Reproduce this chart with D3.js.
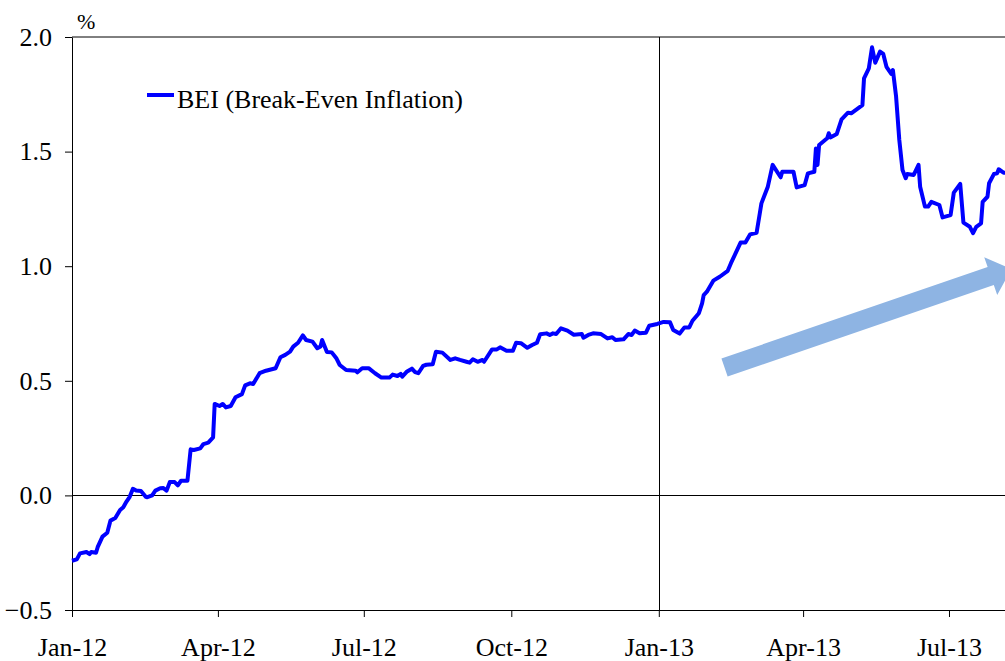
<!DOCTYPE html>
<html>
<head>
<meta charset="utf-8">
<script src="https://cdn.jsdelivr.net/npm/d3@7"></script>
<style>
  body { margin: 0; background: #fff; }
  .axis path, .axis line { stroke: #000; }
  .bei { fill: none; stroke: #0000ff; stroke-width: 4; stroke-linejoin: round; }
</style>
</head>
<body>
<svg id="chart" width="1005" height="661"></svg>
<script>
// days since 1 Jan 2012
var days = [0, 3, 5, 9, 11, 12, 15, 16, 19, 22, 24, 27, 30, 32, 34, 36, 38, 40, 43, 46,
  47, 50, 52, 55, 57, 59, 61, 64, 66, 68, 72, 74, 76, 80, 82, 85, 88, 89, 92, 94,
  96, 99, 102, 106, 108, 111, 113, 117, 121, 127, 130, 133, 136, 138, 141, 144, 146, 150, 153, 155,
  156, 159, 162, 165, 167, 171, 177, 178, 181, 185, 189, 193, 198, 200, 203, 205, 206, 209, 212, 214,
  216, 219, 221, 225, 227, 231, 236, 239, 242, 246, 248, 250, 253, 256, 257, 262, 265, 267, 271, 275,
  277, 280, 284, 287, 290, 292, 296, 298, 300, 302, 305, 309, 313, 318, 319, 322, 325, 330, 334, 337,
  339, 344, 347, 349, 351, 354, 358, 360, 365, 369, 373, 375, 379, 382, 385, 387, 391, 393, 394, 396,
  400, 404, 409, 411, 417, 420, 423, 427, 429, 430, 434, 437, 442, 443, 450, 452, 457, 459, 463, 464,
  465, 466, 471, 472, 473, 477, 480, 484, 486, 493, 494, 497, 499, 501, 504, 506, 508, 511, 512, 514,
  516, 518, 520, 521, 525, 528, 529, 532, 534, 536, 541, 543, 548, 550, 554, 556, 560, 562, 564, 567,
  568, 571, 572, 575, 577, 578, 581, 582, 585];

// BEI, %
var bei = [-0.285, -0.279, -0.253, -0.247, -0.256, -0.247, -0.250, -0.226, -0.180, -0.163, -0.110, -0.099, -0.064, -0.052, -0.027, -0.006, 0.029, 0.021, 0.019, -0.006,
  -0.008, 0.000, 0.021, 0.031, 0.032, 0.021, 0.058, 0.058, 0.044, 0.064, 0.064, 0.201, 0.198, 0.205, 0.224, 0.230, 0.253, 0.399, 0.390, 0.399,
  0.384, 0.390, 0.428, 0.442, 0.480, 0.489, 0.486, 0.533, 0.544, 0.555, 0.603, 0.613, 0.627, 0.649, 0.666, 0.698, 0.678, 0.671, 0.642, 0.650,
  0.678, 0.626, 0.624, 0.597, 0.569, 0.547, 0.544, 0.537, 0.555, 0.555, 0.533, 0.514, 0.514, 0.527, 0.521, 0.530, 0.518, 0.541, 0.553, 0.538,
  0.533, 0.565, 0.570, 0.572, 0.627, 0.623, 0.591, 0.598, 0.591, 0.583, 0.579, 0.594, 0.583, 0.591, 0.583, 0.637, 0.637, 0.646, 0.631, 0.631,
  0.666, 0.664, 0.644, 0.656, 0.666, 0.703, 0.707, 0.700, 0.707, 0.704, 0.729, 0.719, 0.701, 0.704, 0.688, 0.700, 0.707, 0.704, 0.685, 0.690,
  0.678, 0.681, 0.704, 0.700, 0.719, 0.707, 0.710, 0.740, 0.748, 0.757, 0.755, 0.722, 0.706, 0.733, 0.733, 0.762, 0.795, 0.838, 0.874, 0.889,
  0.937, 0.954, 0.980, 1.013, 1.103, 1.103, 1.139, 1.146, 1.231, 1.274, 1.347, 1.442, 1.388, 1.412, 1.412, 1.344, 1.354, 1.405, 1.412, 1.514,
  1.442, 1.529, 1.558, 1.580, 1.562, 1.577, 1.641, 1.670, 1.667, 1.703, 1.820, 1.863, 1.955, 1.888, 1.936, 1.926, 1.870, 1.839, 1.856, 1.740,
  1.551, 1.420, 1.384, 1.402, 1.398, 1.442, 1.347, 1.260, 1.260, 1.281, 1.267, 1.213, 1.223, 1.321, 1.359, 1.190, 1.172, 1.144, 1.172, 1.187,
  1.281, 1.303, 1.362, 1.402, 1.405, 1.423, 1.408, 1.408, 1.400];

var yTicks = [-0.5, 0.0, 0.5, 1.0, 1.5, 2.0];
var xTicks = ["2012-01-01", "2012-04-01", "2012-07-01", "2012-10-01", "2013-01-01", "2013-04-01", "2013-07-01"];
var seriesName = "BEI (Break-Even Inflation)";
var unitLabel = "%";

// trend arrow, [day, value] of tail and tip
var arrowFrom = [407, 0.558];
var arrowTo = [586, 0.988];

var svg = d3.select("#chart"),
    width = +svg.attr("width"),
    height = +svg.attr("height");

var margin = {top: 37, left: 72, bottom: 51};

var start = new Date(2012, 0, 1);
var parseDate = d3.timeParse("%Y-%m-%d");

var x = d3.scaleTime()
    .domain([start, new Date(2014, 0, 1)])
    .range([margin.left, margin.left + 586 * 2]);

var y = d3.scaleLinear()
    .domain([-0.5, 2.0])
    .range([height - margin.bottom, margin.top]);

var data = days.map(function(d, i) {
  return {date: d3.timeDay.offset(start, d), value: bei[i]};
});

// top frame line
svg.append("line")
    .attr("x1", margin.left)
    .attr("x2", width)
    .attr("y1", y(2.0))
    .attr("y2", y(2.0))
    .attr("stroke", "#000");

// zero line
svg.append("line")
    .attr("x1", margin.left)
    .attr("x2", width)
    .attr("y1", Math.round(y(0)) + 0.5)
    .attr("y2", Math.round(y(0)) + 0.5)
    .attr("stroke", "#000");

// Jan-13 separator
var sep = Math.round(x(parseDate("2013-01-01"))) + 0.5;
svg.append("line")
    .attr("x1", sep)
    .attr("x2", sep)
    .attr("y1", y(2.0))
    .attr("y2", y(-0.5))
    .attr("stroke", "#000");

// axes
var gx = svg.append("g")
    .attr("class", "axis")
    .attr("transform", "translate(0," + y(-0.5) + ")")
    .call(d3.axisBottom(x)
      .tickValues(xTicks.map(parseDate))
      .tickFormat(d3.timeFormat("%b-%y"))
      .tickSize(7)
      .tickSizeOuter(0));
gx.select(".domain").attr("d", "M" + margin.left + ",0.5H" + width);
gx.selectAll("text")
    .attr("y", 46)
    .attr("dy", null)
    .attr("font-family", "Liberation Serif")
    .attr("font-size", 26);

var gy = svg.append("g")
    .attr("class", "axis")
    .attr("transform", "translate(" + margin.left + ",0)")
    .call(d3.axisLeft(y)
      .tickValues(yTicks)
      .tickFormat(d3.format(".1f"))
      .tickSize(7)
      .tickPadding(13)
      .tickSizeOuter(0));
gy.selectAll("text")
    .attr("font-family", "Liberation Serif")
    .attr("font-size", 26);

svg.append("text")
    .attr("x", 77)
    .attr("y", 29)
    .attr("font-family", "Liberation Serif")
    .attr("font-size", 22)
    .text(unitLabel);

// arrow
var p0 = [x(d3.timeDay.offset(start, arrowFrom[0])), y(arrowFrom[1])],
    p1 = [x(d3.timeDay.offset(start, arrowTo[0])), y(arrowTo[1])];
var dx = p1[0] - p0[0], dy = p1[1] - p0[1],
    len = Math.sqrt(dx * dx + dy * dy),
    ux = dx / len, uy = dy / len,
    nx = -uy, ny = ux,
    shaft = 9.5, head = 20, headLen = 22;
var bx = p1[0] - ux * headLen, by = p1[1] - uy * headLen;
var arrowPts = [
  [p0[0] + nx * shaft, p0[1] + ny * shaft],
  [bx + nx * shaft, by + ny * shaft],
  [bx + nx * head, by + ny * head],
  p1,
  [bx - nx * head, by - ny * head],
  [bx - nx * shaft, by - ny * shaft],
  [p0[0] - nx * shaft, p0[1] - ny * shaft]
];
svg.append("path")
    .attr("d", "M" + arrowPts.join("L") + "Z")
    .attr("fill", "#8eb4e3");

// the series
var line = d3.line()
    .x(function(d) { return x(d.date); })
    .y(function(d) { return y(d.value); });

svg.append("path")
    .datum(data)
    .attr("class", "bei")
    .attr("d", line);

// legend
var legend = svg.append("g")
    .attr("transform", "translate(147,95)");

legend.append("line")
    .attr("x1", 0)
    .attr("x2", 27)
    .attr("stroke", "#0000ff")
    .attr("stroke-width", 4);

legend.append("text")
    .attr("x", 30)
    .attr("y", 13)
    .attr("font-family", "Liberation Serif")
    .attr("font-size", 26)
    .text(seriesName);
</script>
</body>
</html>
